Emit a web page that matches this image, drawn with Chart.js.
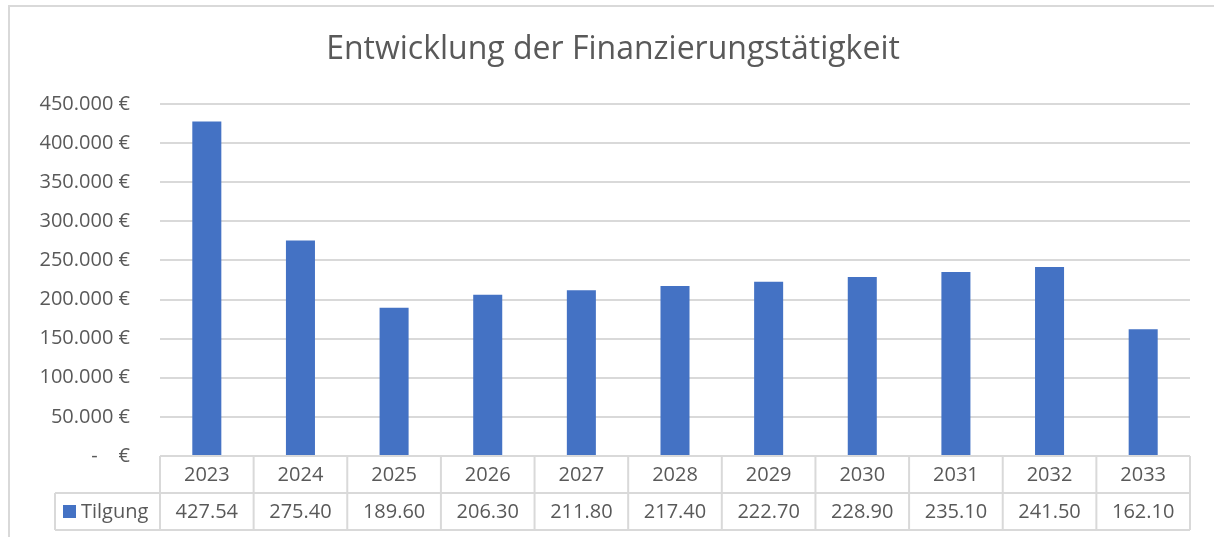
<!DOCTYPE html>
<html>
<head>
<meta charset="utf-8">
<script src="https://cdn.jsdelivr.net/npm/chart.js@4"></script>
<style>
  body { margin: 0; background: #fff; }
  #frame { position: absolute; left: 8px; top: 5px; width: 1240px; height: 560px; border: 2px solid #d9d9d9; }
  #wrap { position: absolute; left: 0; top: 0; width: 1214px; height: 537px; }
</style>
</head>
<body>
<div id="frame"></div>
<div id="wrap"><canvas id="chart" width="1214" height="537"></canvas></div>
<script>
// Data
const years = ['2023', '2024', '2025', '2026', '2027', '2028', '2029', '2030', '2031', '2032', '2033'];
const tilgung = [427540, 275400, 189600, 206300, 211800, 217400, 222700, 228900, 235100, 241500, 162100];
const tableLabels = ['427.54', '275.40', '189.60', '206.30', '211.80', '217.40', '222.70', '228.90', '235.10', '241.50', '162.10'];
const seriesName = 'Tilgung';
const chartTitle = 'Entwicklung der Finanzierungstätigkeit';

const TEXT = '#595959';
const GRID = '#d9d9d9';
const BLUE = '#4472c4';
const FONT = '"Open Sans", sans-serif';

function formatEuro(v) {
  if (v === 0) return '-    €';
  return v.toLocaleString('de-DE') + ' €';
}

// Title + data table underneath the plot
const tablePlugin = {
  id: 'dataTable',
  afterDraw(chart) {
    const ctx = chart.ctx;
    const x = chart.scales.x;
    const area = chart.chartArea;
    const colW = area.width / years.length;
    const top = area.bottom;
    const rowH = 37;
    const legendLeft = 55;

    ctx.save();
    // title
    ctx.fillStyle = TEXT;
    ctx.font = '32px ' + FONT;
    ctx.textAlign = 'center';
    ctx.textBaseline = 'middle';
    ctx.fillText(chartTitle, 613, 50);

    // grid of the table
    ctx.strokeStyle = GRID;
    ctx.lineWidth = 2;
    ctx.beginPath();
    ctx.moveTo(area.left, top + rowH); ctx.lineTo(area.right, top + rowH);
    ctx.moveTo(legendLeft, top + rowH); ctx.lineTo(area.left, top + rowH);
    ctx.moveTo(legendLeft, top + 2 * rowH); ctx.lineTo(area.right, top + 2 * rowH);
    ctx.moveTo(legendLeft, top + rowH); ctx.lineTo(legendLeft, top + 2 * rowH);
    for (let i = 0; i <= years.length; i++) {
      const px = area.left + i * colW;
      ctx.moveTo(px, top); ctx.lineTo(px, top + 2 * rowH);
    }
    ctx.stroke();

    // texts
    ctx.font = '20px ' + FONT;
    ctx.fillStyle = TEXT;
    ctx.textAlign = 'center';
    years.forEach((y, i) => {
      const cx = x.getPixelForValue(i);
      ctx.fillText(y, cx, top + rowH / 2 + 1);
      ctx.fillText(tableLabels[i], cx, top + rowH * 1.5 + 1);
    });

    // legend key
    ctx.fillStyle = BLUE;
    ctx.fillRect(63, top + rowH + 12, 13, 13);
    ctx.fillStyle = TEXT;
    ctx.textAlign = 'left';
    ctx.fillText(seriesName, 81, top + rowH * 1.5 + 1);
    ctx.restore();
  }
};

new Chart(document.getElementById('chart'), {
  type: 'bar',
  data: {
    labels: years,
    datasets: [{
      label: seriesName,
      data: tilgung,
      backgroundColor: BLUE,
      borderWidth: 0,
      barPercentage: 0.31,
      categoryPercentage: 1,
    }],
  },
  options: {
    responsive: false,
    animation: false,
    layout: { padding: { left: 0, right: 24, top: 104, bottom: 81 } },
    plugins: {
      legend: { display: false },
      title: { display: false },
      tooltip: { enabled: false },
    },
    scales: {
      x: { display: false },
      y: {
        min: 0,
        max: 450000,
        afterFit: (s) => { s.width = 160; },
        border: { display: false },
        grid: { color: GRID, lineWidth: 2, drawTicks: false },
        ticks: {
          stepSize: 50000,
          padding: 30,
          color: TEXT,
          font: { family: FONT, size: 20 },
          callback: (v) => formatEuro(v),
        },
      },
    },
  },
  plugins: [tablePlugin],
});
</script>
</body>
</html>
